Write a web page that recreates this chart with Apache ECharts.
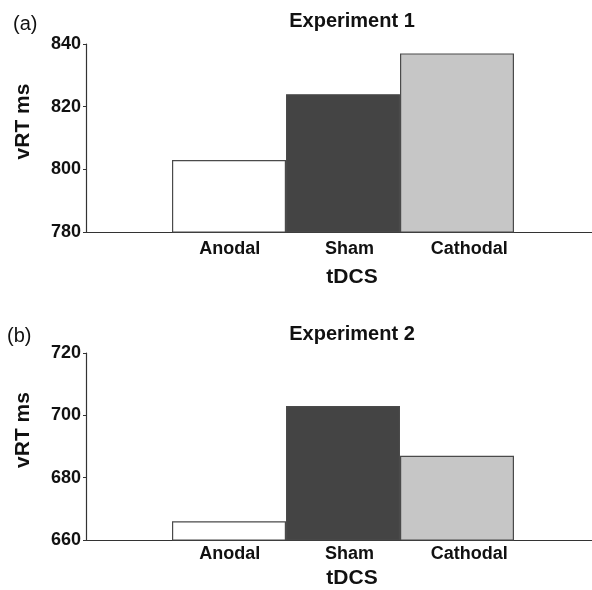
<!DOCTYPE html>
<html>
<head>
<meta charset="utf-8">
<script src="https://cdn.jsdelivr.net/npm/echarts@6/dist/echarts.min.js"></script>
<style>
  html, body { margin: 0; padding: 0; background: #fff; }
  #chart { width: 592px; height: 590px; }
</style>
</head>
<body>
<div id="chart"></div>
<script>
// categories & values
const tdcsLabels = ['Anodal', 'Sham', 'Cathodal'];
const exp1Values = [803, 824, 837];
const exp2Values = [666, 703, 687];
const exp1Range = [780, 840];
const exp2Range = [660, 720];
const tickStep = 20;
const barColors = ['#ffffff', '#444444', '#c6c6c6'];

const FONT = "'Liberation Sans', Arial, sans-serif";
const chart = echarts.init(document.getElementById('chart'));

// each panel: outer grid (y axis + long x line), bar grid, label grid
const panels = [
  { title: 'Experiment 1', tag: '(a)', values: exp1Values, range: exp1Range, top: 44, height: 188, labelGap: 8, nameGap: 35, titleTop: 6, tagTop: 9, tagLeft: 8 },
  { title: 'Experiment 2', tag: '(b)', values: exp2Values, range: exp2Range, top: 353, height: 187, labelGap: 13, nameGap: 36, titleTop: 319, tagTop: 321, tagLeft: 2 }
];

const grids = [], xAxes = [], yAxes = [], series = [], titles = [];

panels.forEach(function (p, i) {
  const g = i * 3;
  grids.push({ left: 86, right: 0, top: p.top, height: p.height });
  grids.push({ left: 172, width: 342, top: p.top, height: p.height });
  grids.push({ left: 170, width: 359, top: p.top, height: p.height });

  // outer: axis line only
  xAxes.push({
    gridIndex: g, type: 'category', data: tdcsLabels,
    axisLine: { lineStyle: { color: '#333', width: 1.2 } },
    axisTick: { show: false }, axisLabel: { show: false }
  });
  // bars
  xAxes.push({
    gridIndex: g + 1, type: 'category', data: tdcsLabels,
    axisLine: { show: false }, axisTick: { show: false }, axisLabel: { show: false }
  });
  // labels + axis name
  xAxes.push({
    gridIndex: g + 2, type: 'category', data: tdcsLabels,
    axisLine: { show: false }, axisTick: { show: false },
    axisLabel: { margin: p.labelGap, color: '#111', fontWeight: 'bold', fontSize: 18, fontFamily: FONT },
    name: 'tDCS', nameLocation: 'middle', nameGap: p.nameGap,
    nameTextStyle: { color: '#111', fontWeight: 'bold', fontSize: 21, fontFamily: FONT, padding: [0, 0, 0, 5] }
  });

  yAxes.push({
    gridIndex: g, type: 'value', min: p.range[0], max: p.range[1], interval: tickStep,
    axisLine: { show: true, lineStyle: { color: '#333', width: 1.2 } },
    axisTick: { show: true, length: 3, lineStyle: { color: '#333' } },
    splitLine: { show: false },
    axisLabel: { margin: 5, color: '#111', fontWeight: 'bold', fontSize: 18, fontFamily: FONT },
    name: 'vRT ms', nameLocation: 'middle', nameGap: 52, nameRotate: 90,
    nameTextStyle: { color: '#111', fontWeight: 'bold', fontSize: 21, fontFamily: FONT, padding: [0, 0, 0, 33] }
  });
  yAxes.push({ gridIndex: g + 1, type: 'value', min: p.range[0], max: p.range[1], show: false });
  yAxes.push({ gridIndex: g + 2, type: 'value', min: p.range[0], max: p.range[1], show: false });

  series.push({
    type: 'bar', xAxisIndex: g + 1, yAxisIndex: g + 1,
    barWidth: '100%', barCategoryGap: '0%',
    data: p.values.map(function (v, k) {
      return { value: v, itemStyle: { color: barColors[k] } };
    }),
    itemStyle: { borderColor: '#4a4a4a', borderWidth: 1.2 },
    silent: true
  });

  titles.push({
    text: p.title, left: 347, top: p.titleTop, textAlign: 'center',
    textStyle: { color: '#111', fontWeight: 'bold', fontSize: 20, fontFamily: FONT }
  });
  titles.push({
    text: p.tag, left: p.tagLeft, top: p.tagTop,
    textStyle: { color: '#111', fontWeight: 'normal', fontSize: 20, fontFamily: FONT }
  });
});

chart.setOption({
  backgroundColor: '#fff',
  animation: false,
  title: titles,
  grid: grids,
  xAxis: xAxes,
  yAxis: yAxes,
  series: series
});
</script>
</body>
</html>
